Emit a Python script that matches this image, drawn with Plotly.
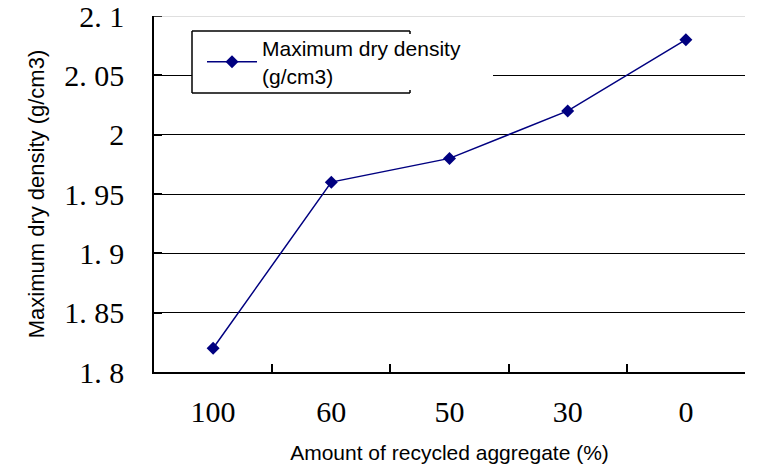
import plotly.graph_objects as go

# Data: maximum dry density by recycled aggregate content
categories = ["100", "60", "50", "30", "0"]
density = [1.82, 1.96, 1.98, 2.02, 2.08]

y_tickvals = [1.8, 1.85, 1.9, 1.95, 2.0, 2.05, 2.1]
y_ticktext = ["1. 8", "1. 85", "1. 9", "1. 95", "2", "2. 05", "2. 1"]

NAVY = "#000080"

# plot area in pixels: left 154, right 745, top 16, bottom 372
L, R, T, B = 154, 745, 16, 372
W, H = 760, 467


def px(x):
    return (x - L) / (R - L)


def py(y):
    return (B - y) / (B - T)


fig = go.Figure()
fig.add_trace(go.Scatter(
    x=categories,
    y=density,
    mode="lines+markers",
    name="Maximum dry density<br>(g/cm3)",
    line=dict(color=NAVY, width=1.5),
    marker=dict(symbol="diamond", size=10, color=NAVY),
))

shapes = []
# light top grid line at 2.1 and its small tick
shapes.append(dict(type="line", xref="paper", yref="y", x0=0, x1=1, y0=2.1, y1=2.1,
                   line=dict(color="#d4d4d4", width=1.3), layer="above"))
shapes.append(dict(type="line", xref="paper", yref="y", x0=0, x1=px(162), y0=2.1, y1=2.1,
                   line=dict(color="black", width=1.5), layer="above"))
# legend box: white backing and open-sided border
shapes.append(dict(type="rect", xref="paper", yref="paper",
                   x0=px(192), x1=px(493), y0=py(93), y1=py(31),
                   fillcolor="white", line=dict(width=0), layer="above"))
bl = dict(color="black", width=1.5)
shapes += [
    dict(type="line", xref="paper", yref="paper", x0=px(192), x1=px(410), y0=py(31), y1=py(31), line=bl, layer="above"),
    dict(type="line", xref="paper", yref="paper", x0=px(192), x1=px(410), y0=py(93), y1=py(93), line=bl, layer="above"),
    dict(type="line", xref="paper", yref="paper", x0=px(192), x1=px(192), y0=py(93), y1=py(31), line=bl, layer="above"),
    dict(type="line", xref="paper", yref="paper", x0=px(410), x1=px(410), y0=py(34), y1=py(31), line=bl, layer="above"),
    dict(type="line", xref="paper", yref="paper", x0=px(410), x1=px(410), y0=py(93), y1=py(90), line=bl, layer="above"),
]

fig.update_layout(
    width=W, height=H,
    margin=dict(l=L, r=W - R, t=T, b=H - B, pad=0),
    paper_bgcolor="white",
    plot_bgcolor="white",
    showlegend=True,
    legend=dict(
        x=px(202), y=py(28), xanchor="left", yanchor="top",
        itemwidth=50,
        bgcolor="rgba(0,0,0,0)", borderwidth=0,
        font=dict(family="Liberation Sans, Arial", size=21, color="black"),
    ),
    shapes=shapes,
    xaxis=dict(
        type="category",
        range=[-0.5, 4.5],
        automargin=False,
        tickson="boundaries",
        ticks="inside", ticklen=8, tickwidth=1.5, tickcolor="black",
        showline=True, linecolor="black", linewidth=1.5,
        showgrid=False,
        ticklabelstandoff=12,
        tickfont=dict(family="Liberation Serif, serif", size=30, color="black"),
        title=dict(text="Amount of recycled aggregate (%)", standoff=19,
                   font=dict(family="Liberation Sans, Arial", size=21, color="black")),
    ),
    yaxis=dict(
        range=[1.8, 2.1],
        automargin=False,
        tickvals=y_tickvals, ticktext=y_ticktext,
        ticks="inside", ticklen=8, tickwidth=1.5, tickcolor="black",
        showline=True, linecolor="black", linewidth=1.5,
        showgrid=True, gridcolor="black", gridwidth=1.3,
        zeroline=False,
        ticklabelstandoff=22,
        ticklabeloverflow="allow",
        tickfont=dict(family="Liberation Serif, serif", size=30, color="black"),
        title=dict(text="Maximum dry density (g/cm3)", standoff=14,
                   font=dict(family="Liberation Sans, Arial", size=22, color="black")),
    ),
)

fig.write_html("out.html")
